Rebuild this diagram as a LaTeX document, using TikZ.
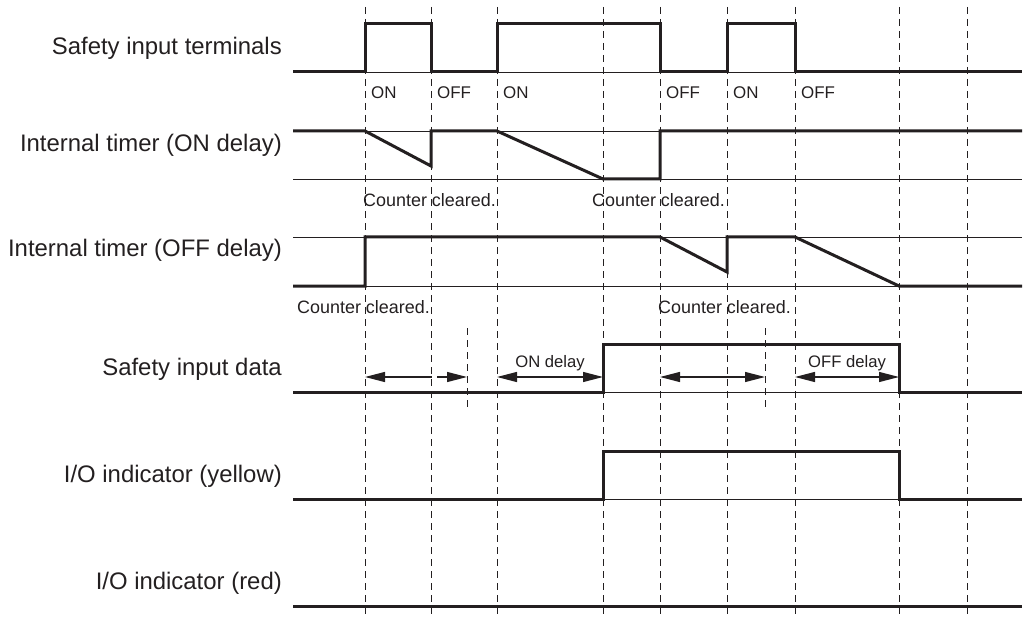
\documentclass[tikz,border=0pt]{standalone}
\usepackage{fontspec}
\setmainfont{Liberation Sans}
\usetikzlibrary{arrows.meta}
\definecolor{ink}{HTML}{231F20}
\tikzset{tri/.tip={Triangle[length=20bp,width=10bp]}}
\begin{document}
\begin{tikzpicture}[x=1bp,y=-1bp,
  sig/.style={line width=3bp, draw=ink, line join=miter},
  baseline/.style={line width=0.8bp, draw=ink},
  guide/.style={line width=0.9bp, draw=ink, dash pattern=on 7bp off 5bp},
  dim/.style={line width=1.2bp, draw=ink},
  lbl/.style={anchor=base east, inner sep=0pt, text=ink, font=\fontsize{24}{28}\selectfont},
  st/.style={anchor=base west, inner sep=0pt, text=ink, font=\fontsize{17}{20}\selectfont},
  cc/.style={anchor=base west, inner sep=0pt, text=ink, font=\fontsize{18}{21}\selectfont},
  dl/.style={anchor=base, inner sep=0pt, text=ink, font=\fontsize{16.7}{20}\selectfont}]
\useasboundingbox (0,0) rectangle (1025,619);

% guide lines
\foreach \x in {365,431,497,603,660,727,795,899,967}
  \draw[guide] (\x,7) -- (\x,617);
\draw[guide] (467,328) -- (467,409);
\draw[guide] (765,328) -- (765,409);

% thin reference lines
\foreach \y in {72,131,179,237,286,392,499}
  \draw[baseline] (293,\y) -- (1022,\y);

% signals
\draw[sig] (293,72) -- (365,72) -- (365,24) -- (431,24) -- (431,72) -- (497,72) -- (497,24) -- (660,24) -- (660,72) -- (727,72) -- (727,24) -- (795,24) -- (795,72) -- (1022,72);
\draw[sig] (293,131) -- (365,131) -- (431,166) -- (431,131) -- (497,131) -- (603,179) -- (660,179) -- (660,131) -- (1022,131);
\draw[sig] (293,286) -- (365,286) -- (365,237) -- (660,237) -- (727,272) -- (727,237) -- (795,237) -- (899,286) -- (1022,286);
\draw[sig] (293,392) -- (603,392) -- (603,344) -- (899,344) -- (899,392) -- (1022,392);
\draw[sig] (293,499) -- (603,499) -- (603,451) -- (899,451) -- (899,499) -- (1022,499);
\draw[sig] (293,606) -- (1022,606);

% row labels
\node[lbl] (lterm) at (282,55) {Safety input terminals};
\node[lbl] (lon) at (282,152) {Internal timer (ON delay)};
\node[lbl] (loff) at (282,257) {Internal timer (OFF delay)};
\node[lbl] (ldata) at (282,375) {Safety input data};
\node[lbl] (lyel) at (282,482) {I/O indicator (yellow)};
\node[lbl] (lred) at (282,589) {I/O indicator (red)};

% state labels
\node[st] (s1) at (371,99) {ON};
\node[st] (s2) at (437,99) {OFF};
\node[st] (s3) at (503,99) {ON};
\node[st] (s4) at (666,99) {OFF};
\node[st] (s5) at (733,99) {ON};
\node[st] (s6) at (801,99) {OFF};

% counter cleared
\node[cc] (c1) at (363,207) {Counter cleared.};
\node[cc] (c2) at (592,207) {Counter cleared.};
\node[cc] (c3) at (297,313) {Counter cleared.};
\node[cc] (c4) at (658,313) {Counter cleared.};

% delay arrows
\coordinate (a1l) at (365,377);
\coordinate (a1m) at (432,377);
\coordinate (a1d1) at (437,377);
\coordinate (a1d2) at (445,377);
\coordinate (a1r) at (467,377);
\draw[dim, {tri}-] (a1l) -- (a1m);
\draw[dim] (a1d1) -- (a1d2);
\draw[dim, -{tri}] (a1d2) -- (a1r);

\coordinate (a2l) at (497,377);
\coordinate (a2r) at (603,377);
\draw[dim, {tri}-{tri}] (a2l) -- (a2r);
\node[dl] (ond) at (550,367) {ON delay};

\coordinate (a3l) at (660,377);
\coordinate (a3r) at (765,377);
\draw[dim, {tri}-{tri}] (a3l) -- (a3r);

\coordinate (a4l) at (795,377);
\coordinate (a4r) at (899,377);
\draw[dim, {tri}-{tri}] (a4l) -- (a4r);
\node[dl] (offd) at (847,367) {OFF delay};
\end{tikzpicture}
\end{document}
